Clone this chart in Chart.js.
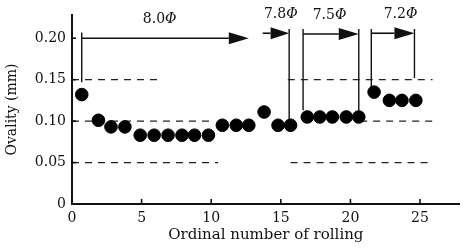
<!DOCTYPE html>
<html>
<head>
<meta charset="utf-8">
<script src="https://cdn.jsdelivr.net/npm/chart.js@4"></script>
<style>
  html, body { margin: 0; padding: 0; background: #fff; overflow: hidden; }
  #wrap { width: 467px; height: 248px; }
</style>
</head>
<body>
<div id="wrap"><canvas id="chart"></canvas></div>
<script>
// ordinal number of rolling (as placed in the figure) and ovality (mm)
let rollNo = [0.7, 1.9, 2.8, 3.8, 4.9, 5.9, 6.9, 7.9, 8.8, 9.8, 10.8, 11.8, 12.7,
              13.8, 14.8, 15.7, 16.9, 17.8, 18.7, 19.7, 20.6, 21.7, 22.8, 23.7, 24.7]
let ovality = [0.132, 0.101, 0.093, 0.093, 0.083, 0.083, 0.083, 0.083, 0.083, 0.083,
               0.095, 0.095, 0.095, 0.111, 0.095, 0.095, 0.105, 0.105, 0.105, 0.105,
               0.105, 0.135, 0.125, 0.125, 0.125]

let xTicks = [0, 5, 10, 15, 20, 25]
let yTicks = [0, 0.05, 0.10, 0.15, 0.20]

// dashed reference levels, drawn in pieces like the scan
let refLevel = [0.15, 0.15, 0.10, 0.10, 0.05, 0.05]
let refFrom = [0, 15.5, 0, 20.7, 0, 15.7]
let refTo = [6.3, 25.9, 10.0, 26.0, 10.5, 25.9]

// diameter arrows
let arrowLabels = ['8.0', '7.8', '7.5', '7.2']
let arrowFrom = [0.7, 13.7, 16.6, 21.5]
let arrowTo = [12.7, 15.6, 20.6, 24.6]
let arrowLevel = [0.200, 0.206, 0.205, 0.206]
let labelX = [6.3, 15.0, 18.5, 23.6]

// vertical boundary bars
let barX = [0.7, 15.6, 16.6, 20.6, 21.5, 24.6]
let barTop = [0.207, 0.211, 0.211, 0.211, 0.211, 0.211]
let barBottom = [0.147, 0.099, 0.113, 0.113, 0.140, 0.152]

const serif = '"DejaVu Serif", "Liberation Serif", serif'

let refSets = refLevel.map((lv, i) => ({
    type: 'line',
    data: [{x: refFrom[i], y: lv}, {x: refTo[i], y: lv}],
    borderColor: '#222',
    borderWidth: 1.2,
    borderDash: [7, 6],
    pointRadius: 0,
    fill: false
}))

let barSets = barX.map((x, i) => ({
    type: 'line',
    data: [{x: x, y: barTop[i]}, {x: x, y: barBottom[i]}],
    borderColor: '#111',
    borderWidth: 1.4,
    pointRadius: 0,
    fill: false
}))

const arrowPlugin = {
    id: 'arrows',
    afterDatasetsDraw(chart) {
        let ctx = chart.ctx
        let xs = chart.scales.x
        let ys = chart.scales.y
        ctx.save()
        ctx.strokeStyle = '#111'
        ctx.fillStyle = '#111'
        ctx.lineWidth = 1.6

        // short inward tick marks
        xTicks.slice(1).forEach(v => {
            let px = xs.getPixelForValue(v)
            ctx.beginPath()
            ctx.moveTo(px, ys.bottom)
            ctx.lineTo(px, ys.bottom - 5)
            ctx.stroke()
        })
        yTicks.slice(1).forEach(v => {
            let py = ys.getPixelForValue(v)
            ctx.beginPath()
            ctx.moveTo(xs.left, py)
            ctx.lineTo(xs.left + 4, py)
            ctx.stroke()
        })

        arrowLabels.forEach((lab, i) => {
            let x0 = xs.getPixelForValue(arrowFrom[i])
            let x1 = xs.getPixelForValue(arrowTo[i])
            let y = ys.getPixelForValue(arrowLevel[i])
            let head = Math.min(20, (x1 - x0) * 0.7)
            ctx.beginPath()
            ctx.moveTo(x0, y)
            ctx.lineTo(x1 - head, y)
            ctx.stroke()
            ctx.beginPath()
            ctx.moveTo(x1, y)
            ctx.lineTo(x1 - head, y - 6)
            ctx.lineTo(x1 - head, y + 6)
            ctx.closePath()
            ctx.fill()

            // label: number plus italic phi
            let cx = xs.getPixelForValue(labelX[i])
            let ty = y - 19
            ctx.textBaseline = 'middle'
            ctx.font = '14px ' + serif
            let w1 = ctx.measureText(lab).width
            ctx.font = 'italic 14px ' + serif
            let w2 = ctx.measureText('Φ').width
            let start = cx - (w1 + w2) / 2
            ctx.textAlign = 'left'
            ctx.font = '14px ' + serif
            ctx.fillText(lab, start, ty)
            ctx.font = 'italic 14px ' + serif
            ctx.fillText('Φ', start + w1, ty)
        })
        ctx.restore()
    }
}

let chart = new Chart(document.getElementById('chart').getContext('2d'), {
    type: 'scatter',
    data: {
        datasets: [{
            data: rollNo.map((x, i) => ({x: x, y: ovality[i]})),
            backgroundColor: '#000',
            borderColor: '#000',
            pointRadius: 6.3,
            pointHoverRadius: 6.3
        }].concat(refSets, barSets)
    },
    plugins: [arrowPlugin],
    options: {
        responsive: true,
        maintainAspectRatio: false,
        animation: false,
        events: [],
        layout: { padding: { top: 15, right: 0, left: 0, bottom: 0 } },
        plugins: {
            legend: { display: false },
            tooltip: { enabled: false }
        },
        scales: {
            x: {
                type: 'linear',
                min: 0,
                max: 27.85,
                afterBuildTicks: s => { s.ticks = xTicks.map(v => ({value: v})) },
                afterFit: s => { s.height = 44 },
                grid: { display: false, drawTicks: false },
                border: { color: '#111', width: 2 },
                ticks: {
                    color: '#111',
                    padding: 6,
                    font: { family: serif, size: 14 }
                },
                title: {
                    display: true,
                    text: 'Ordinal number of rolling',
                    color: '#111',
                    padding: { top: 1 },
                    font: { family: serif, size: 15 }
                }
            },
            y: {
                min: 0,
                max: 0.228,
                afterBuildTicks: s => { s.ticks = yTicks.map(v => ({value: v})) },
                afterFit: s => { s.width = 72 },
                grid: { display: false, drawTicks: false },
                border: { color: '#111', width: 2 },
                ticks: {
                    color: '#111',
                    padding: 6,
                    font: { family: serif, size: 14 },
                    callback: v => v === 0 ? '0' : v.toFixed(2)
                },
                title: {
                    display: true,
                    text: 'Ovality (mm)',
                    color: '#111',
                    padding: { bottom: 0 },
                    font: { family: serif, size: 14 }
                }
            }
        }
    }
})
</script>
</body>
</html>
